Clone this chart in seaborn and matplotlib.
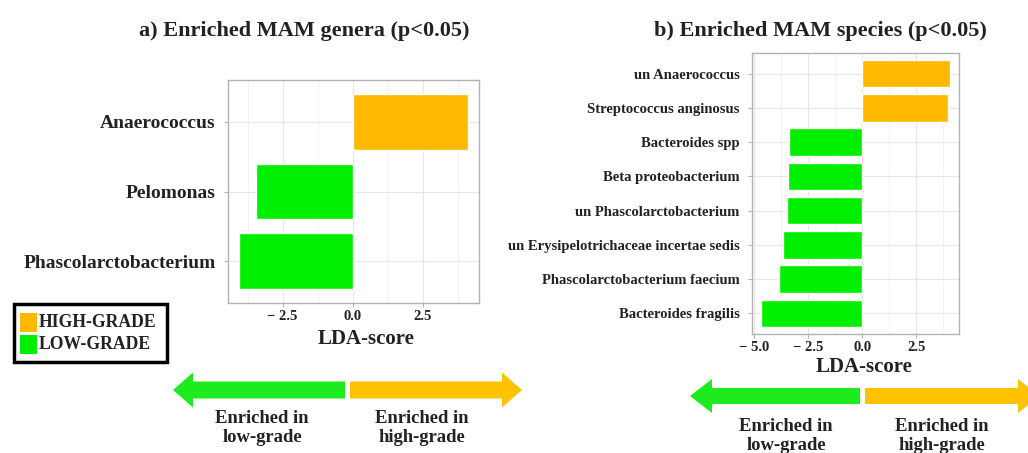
import matplotlib
matplotlib.use("Agg")
import matplotlib.pyplot as plt
import pandas as pd
import numpy as np
import seaborn as sns
from matplotlib.ticker import MultipleLocator
from matplotlib.patches import FancyArrow, Rectangle

# Data
genera = ["Anaerococcus", "Pelomonas", "Phascolarctobacterium"]
genera_lda = [4.1, -3.46, -4.04]
genera_grade = ["HIGH-GRADE", "LOW-GRADE", "LOW-GRADE"]

species = ["un Anaerococcus", "Streptococcus anginosus", "Bacteroides spp",
           "Beta proteobacterium", "un Phascolarctobacterium",
           "un Erysipelotrichaceae incertae sedis",
           "Phascolarctobacterium faecium", "Bacteroides fragilis"]
species_lda = [4.04, 3.95, -3.39, -3.44, -3.47, -3.67, -3.86, -4.67]
species_grade = ["HIGH-GRADE", "HIGH-GRADE"] + ["LOW-GRADE"] * 6

palette = {"HIGH-GRADE": "#FFB900", "LOW-GRADE": "#00EE00"}
ARROW_GREEN = "#1EEB1E"
ARROW_ORANGE = "#FFC200"
TXT = "#222222"

sns.set_theme(style="white")
plt.rcParams['font.family'] = ['Liberation Serif', 'DejaVu Serif']
plt.rcParams['font.weight'] = 'bold'

W, H = 1028, 453
fig = plt.figure(figsize=(W / 100, H / 100), dpi=100)


def add_px_axes(x0, y0, x1, y1):
    # pixel box (top-left origin) -> figure fraction
    return fig.add_axes([x0 / W, 1 - y1 / H, (x1 - x0) / W, (y1 - y0) / H])


def lda_panel(ax, names, vals, grades, xlim, ylab_size):
    df = pd.DataFrame({"name": names, "lda": vals, "grade": grades})
    sns.barplot(data=df, x="lda", y="name", hue="grade", palette=palette,
                dodge=False, legend=False, width=0.8, ax=ax, saturation=1)
    ax.set_xlim(*xlim)
    ax.set_ylim(len(names) - 0.4, -0.6)
    ax.xaxis.set_major_locator(MultipleLocator(2.5))
    ax.xaxis.set_minor_locator(MultipleLocator(1.25))
    ax.grid(True, which="major", color="#E6E6E6", lw=0.8)
    ax.grid(True, which="minor", axis="x", color="#F0F0F0", lw=0.6)
    ax.set_axisbelow(True)
    for s in ax.spines.values():
        s.set_color("#B3B3B3")
        s.set_linewidth(1.0)
    ax.tick_params(axis="both", which="major", length=3, color="#B3B3B3",
                   width=0.8, bottom=True, left=True)
    ax.tick_params(axis="y", labelsize=ylab_size, labelcolor=TXT, pad=6)
    ax.tick_params(axis="x", labelsize=10.5, labelcolor=TXT, pad=2)
    ax.set_xticklabels([f"{t:.1f}".replace("-", "\u2212 ") for t in ax.get_xticks()])
    ax.set_xlabel("")
    ax.set_ylabel("")


ax1 = add_px_axes(228, 80, 479, 303)
lda_panel(ax1, genera, genera_lda, genera_grade, (-4.45, 4.51), 14)

ax2 = add_px_axes(752, 53, 959, 334)
lda_panel(ax2, species, species_lda, species_grade, (-5.11, 4.48), 10.5)

# overlay in pixel coordinates for titles, legend, arrows
ov = fig.add_axes([0, 0, 1, 1], zorder=-1)
ov.set_xlim(0, W)
ov.set_ylim(H, 0)
ov.axis("off")
ov.patch.set_alpha(0)

ov.text(304, 31, "a) Enriched MAM genera (p<0.05)", ha="center", va="center",
        fontsize=16, color=TXT)
ov.text(820, 31, "b) Enriched MAM species (p<0.05)", ha="center", va="center",
        fontsize=16, color=TXT)
ov.text(366, 339, "LDA-score", ha="center", va="center", fontsize=15, color=TXT)
ov.text(864, 367, "LDA-score", ha="center", va="center", fontsize=15, color=TXT)

# legend box
ov.add_patch(Rectangle((14, 304), 153, 58, fill=False, ec="black", lw=2.5))
ov.add_patch(Rectangle((20, 313), 17, 19, color=palette["HIGH-GRADE"], lw=0))
ov.add_patch(Rectangle((20, 335), 17, 19, color=palette["LOW-GRADE"], lw=0))
ov.text(39, 322.5, "HIGH-GRADE", ha="left", va="center", fontsize=12.7, color=TXT)
ov.text(39, 344.5, "LOW-GRADE", ha="left", va="center", fontsize=12.7, color=TXT)


def arrow_pair(xl_tip, x_mid_l, x_mid_r, xr_tip, yc, shaft, head, head_len):
    ov.add_patch(FancyArrow(x_mid_l, yc, xl_tip - x_mid_l, 0, width=shaft,
                            head_width=head, head_length=head_len,
                            length_includes_head=True, color=ARROW_GREEN, lw=0))
    ov.add_patch(FancyArrow(x_mid_r, yc, xr_tip - x_mid_r, 0, width=shaft,
                            head_width=head, head_length=head_len,
                            length_includes_head=True, color=ARROW_ORANGE, lw=0))


arrow_pair(173, 345, 350, 522, 390, 17, 35, 20)
arrow_pair(690, 860, 865, 1040, 396, 16, 34, 22)

ov.text(262, 428, "Enriched in\nlow-grade", ha="center", va="center",
        fontsize=13.4, color=TXT, linespacing=1.2)
ov.text(422, 428, "Enriched in\nhigh-grade", ha="center", va="center",
        fontsize=13.4, color=TXT, linespacing=1.2)
ov.text(786, 436, "Enriched in\nlow-grade", ha="center", va="center",
        fontsize=13.4, color=TXT, linespacing=1.2)
ov.text(942, 436, "Enriched in\nhigh-grade", ha="center", va="center",
        fontsize=13.4, color=TXT, linespacing=1.2)

fig.savefig("out.png", dpi=100)
